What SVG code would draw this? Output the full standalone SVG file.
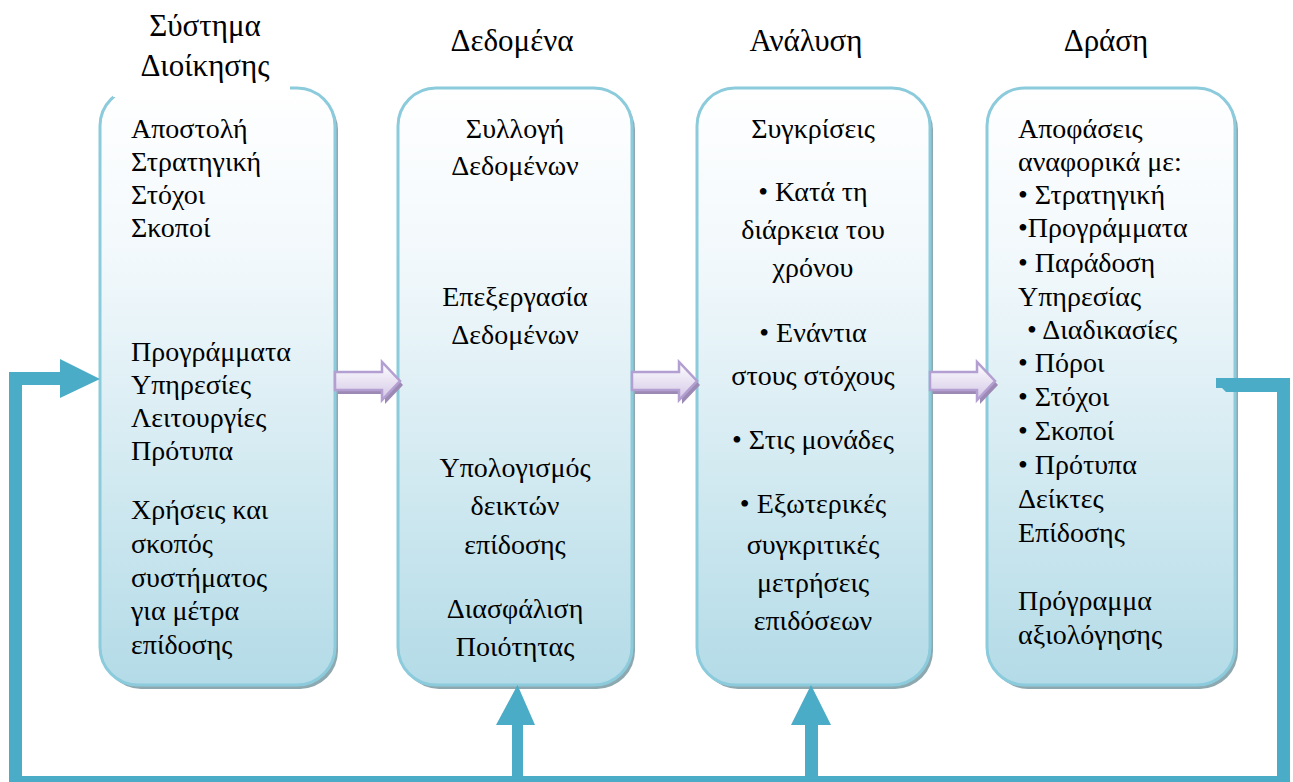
<svg xmlns="http://www.w3.org/2000/svg" width="1293" height="782" viewBox="0 0 1293 782" font-family="Liberation Serif, Times New Roman, serif" xml:lang="el">
  <defs>
    <linearGradient id="boxFill" x1="0" y1="0" x2="0" y2="1">
      <stop offset="0" stop-color="#ffffff"/>
      <stop offset="0.3" stop-color="#f1f8fb"/>
      <stop offset="1" stop-color="#b3dbe7"/>
    </linearGradient>
    <linearGradient id="arrowFill" x1="0" y1="0" x2="0" y2="1">
      <stop offset="0" stop-color="#ffffff"/>
      <stop offset="1" stop-color="#d3c6e6"/>
    </linearGradient>
    <!-- forward-flow block arrow -->
    <g id="flowArrow">
      <polygon points="3,4 50,4 50,-6 68,13 50,32 50,22 3,22" fill="#9c8ab5"/>
      <polygon points="0,0 47,0 47,-10 65,9 47,28 47,18 0,18" fill="url(#arrowFill)" stroke="#b39fd1" stroke-width="2.5"/>
    </g>
  </defs>

  <rect width="1293" height="782" fill="#ffffff"/>

  <!-- Management system -->
  <g id="node-system" font-size="28">
    <rect x="103" y="92" width="235" height="597" rx="38" fill="#8ea8b0"/>
    <rect x="100" y="88" width="235" height="597" rx="38" fill="url(#boxFill)" stroke="#8ccbdc" stroke-width="3"/>
    <rect x="113" y="0" width="177" height="97" fill="#ffffff"/>
    <text x="205" y="36" text-anchor="middle" font-size="31">Σύστημα</text>
    <text x="205" y="76" text-anchor="middle" font-size="31">Διοίκησης</text>
    <text x="131" y="138">Αποστολή</text>
    <text x="131" y="171">Στρατηγική</text>
    <text x="131" y="204">Στόχοι</text>
    <text x="131" y="237">Σκοποί</text>
    <text x="131" y="361">Προγράμματα</text>
    <text x="131" y="394">Υπηρεσίες</text>
    <text x="131" y="427">Λειτουργίες</text>
    <text x="131" y="460">Πρότυπα</text>
    <text x="131" y="519">Χρήσεις και</text>
    <text x="131" y="553">σκοπός</text>
    <text x="131" y="587">συστήματος</text>
    <text x="131" y="620">για μέτρα</text>
    <text x="131" y="654">επίδοσης</text>
  </g>

  <!-- Data -->
  <g id="node-data" font-size="28" text-anchor="middle">
    <rect x="401" y="92" width="234" height="597" rx="38" fill="#8ea8b0"/>
    <rect x="398" y="88" width="234" height="597" rx="38" fill="url(#boxFill)" stroke="#8ccbdc" stroke-width="3"/>
    <text x="512" y="51" font-size="31">Δεδομένα</text>
    <text x="515" y="138">Συλλογή</text>
    <text x="515" y="175">Δεδομένων</text>
    <text x="515" y="306">Επεξεργασία</text>
    <text x="515" y="344">Δεδομένων</text>
    <text x="515" y="477">Υπολογισμός</text>
    <text x="515" y="515">δεικτών</text>
    <text x="515" y="554">επίδοσης</text>
    <text x="515" y="618">Διασφάλιση</text>
    <text x="515" y="656">Ποιότητας</text>
  </g>

  <!-- Analysis -->
  <g id="node-analysis" font-size="28" text-anchor="middle">
    <rect x="700" y="92" width="233" height="597" rx="38" fill="#8ea8b0"/>
    <rect x="697" y="88" width="233" height="597" rx="38" fill="url(#boxFill)" stroke="#8ccbdc" stroke-width="3"/>
    <text x="806" y="51" font-size="31">Ανάλυση</text>
    <text x="813" y="138">Συγκρίσεις</text>
    <text x="813" y="201">• Κατά τη</text>
    <text x="813" y="239">διάρκεια του</text>
    <text x="813" y="277">χρόνου</text>
    <text x="813" y="342">• Ενάντια</text>
    <text x="813" y="385">στους στόχους</text>
    <text x="813" y="449">• Στις μονάδες</text>
    <text x="813" y="513">• Εξωτερικές</text>
    <text x="813" y="554">συγκριτικές</text>
    <text x="813" y="592">μετρήσεις</text>
    <text x="813" y="630">επιδόσεων</text>
  </g>

  <!-- Action -->
  <g id="node-action" font-size="28">
    <rect x="990" y="92" width="248" height="597" rx="38" fill="#8ea8b0"/>
    <rect x="987" y="88" width="248" height="597" rx="38" fill="url(#boxFill)" stroke="#8ccbdc" stroke-width="3"/>
    <text x="1106" y="51" text-anchor="middle" font-size="31">Δράση</text>
    <text x="1018" y="138">Αποφάσεις</text>
    <text x="1018" y="171">αναφορικά με:</text>
    <text x="1018" y="204">• Στρατηγική</text>
    <text x="1018" y="237">•Προγράμματα</text>
    <text x="1018" y="272">• Παράδοση</text>
    <text x="1018" y="306">Υπηρεσίας</text>
    <text x="1027" y="339">• Διαδικασίες</text>
    <text x="1018" y="372">• Πόροι</text>
    <text x="1018" y="406">• Στόχοι</text>
    <text x="1018" y="440">• Σκοποί</text>
    <text x="1018" y="474">• Πρότυπα</text>
    <text x="1018" y="508">Δείκτες</text>
    <text x="1018" y="542">Επίδοσης</text>
    <text x="1018" y="610">Πρόγραμμα</text>
    <text x="1018" y="644">αξιολόγησης</text>
  </g>

  <g id="connectors">
    <!-- forward flow between stages -->
    <use href="#flowArrow" x="335" y="372"/>
    <use href="#flowArrow" x="632" y="372"/>
    <use href="#flowArrow" x="930" y="372"/>
    <!-- feedback loop -->
    <polygon fill="#4aacc6" points="1216,378 1290,378 1290,790 9,790 9,372 60,372 60,359 100,379 60,398 60,385 22,385 22,776 512,776 512,725 496,725 517.5,685 535,725 523,725 523,776 805,776 805,725 791,725 811,685 831,725 818,725 818,776 1277,776 1277,392 1226,392 1222,388 1216,388"/>
  </g>
</svg>
